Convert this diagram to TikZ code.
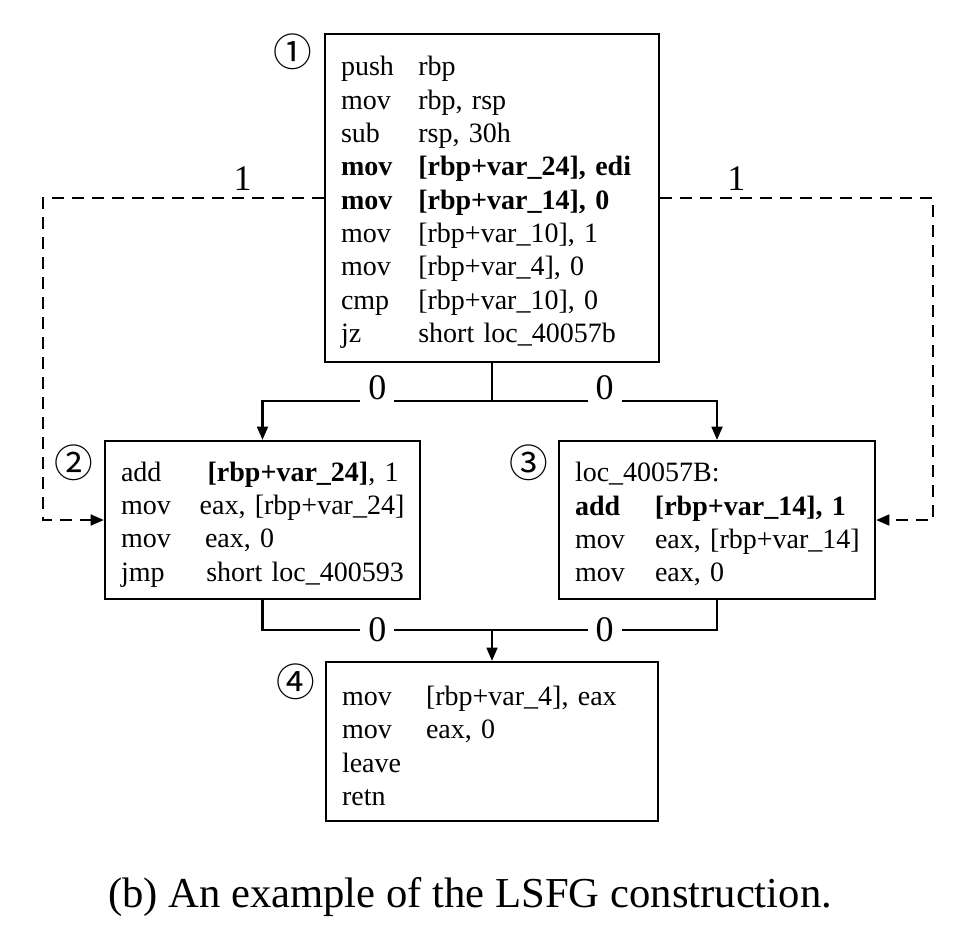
\documentclass[tikz,border=0pt]{standalone}
\usepackage{fontspec}
\setmainfont{Liberation Serif}
\newfontfamily\circfont{Noto Sans CJK JP}
\usetikzlibrary{positioning}
\usetikzlibrary{arrows.meta}
% one instruction: mnemonic in a fixed column, then operands
\newcommand{\instr}[3][58pt]{\mbox{\makebox[#1][l]{#2}#3}}
% pushes a block's lines down a little
\newcommand{\topgap}{\rule{0pt}{21pt}}
\tikzset {
  x=0.75pt, y=-0.75pt,
  % basic block of assembly code
  block/.style = {draw, rectangle, line width=1.5pt, align=left,
    inner xsep=12pt, inner ysep=0pt, font=\fontsize{21}{25}\selectfont},
  % circled block number
  num/.style = {inner sep=0pt, font=\circfont\fontsize{29}{29}\selectfont},
  % fall-through / branch edges
  edge/.style = {line width=2pt},
  flow/.style = {edge, -{Triangle[length=10pt,width=8pt]}},
  % data-dependence edges
  jump/.style = {flow, dash pattern=on 9pt off 6pt},
  % edge weights
  wt/.style = {font=\fontsize{27}{30}\selectfont},
  gap/.style = {wt, fill=white, inner xsep=6pt, inner ysep=2pt},
}

\begin{document}
\begin{tikzpicture}
        \path[use as bounding box] (0,0) rectangle (970,936);

        \node[block, text width=226.5pt, minimum height=246pt] (b1) at (492,198) {
          \topgap\instr{push}{rbp}\\
          \instr{mov}{rbp, rsp}\\
          \instr{sub}{rsp, 30h}\\
          \textbf{\instr{mov}{[rbp+var\_24], edi}}\\
          \textbf{\instr{mov}{[rbp+var\_14], 0}}\\
          \instr{mov}{[rbp+var\_10], 1}\\
          \instr{mov}{[rbp+var\_4], 0}\\
          \instr{cmp}{[rbp+var\_10], 0}\\
          \instr{jz}{short loc\_40057b}};
        \node[block, text width=212.25pt, minimum height=118.5pt] (b2) at (262.5,520) {
          \topgap\instr[65pt]{add}{\textbf{[rbp+var\_24]}, 1}\\
          \instr[59pt]{mov}{eax, [rbp+var\_24]}\\
          \instr[63pt]{mov}{eax, 0}\\
          \instr[64pt]{jmp}{short loc\_400593}};
        \node[block, text width=213pt, minimum height=118.5pt] (b3) at (717,520) {
          \topgap loc\_40057B:\\
          \textbf{\instr[60pt]{add}{[rbp+var\_14], 1}}\\
          \instr[60pt]{mov}{eax, [rbp+var\_14]}\\
          \instr[60pt]{mov}{eax, 0}};
        \node[block, text width=225pt, minimum height=119.25pt] (b4) at (492,741.5) {
          \topgap\instr[63pt]{mov}{[rbp+var\_4], eax}\\
          \instr[63pt]{mov}{eax, 0}\\
          leave\\
          retn};

        \node[num] (n1) at ([shift={(-31,19)}]b1.north west) {①};
        \node[num] (n2) at ([shift={(-30,23)}]b2.north west) {②};
        \node[num] (n3) at ([shift={(-29,23)}]b3.north west) {③};
        \node[num] (n4) at ([shift={(-29,21)}]b4.north west) {④};

        \coordinate (split) at ([shift={(0,38)}]b1.south);
        \coordinate (join) at ([shift={(0,-31)}]b4.north);
        \coordinate (lc) at (43,520);
        \coordinate (rc) at (933,520);

        % control flow
        \draw[edge] (b1.south) -- (split);
        \draw[flow] (split) -| node[gap, pos=0.25, yshift=10pt] (w1) {0} (b2.north);
        \draw[flow] (split) -| node[gap, pos=0.25, yshift=10pt] (w2) {0} (b3.north);
        \draw[edge] (b2.south) |- node[gap, pos=0.75] (w3) {0} (join);
        \draw[edge] (b3.south) |- node[gap, pos=0.75] (w4) {0} (join);
        \draw[flow] (join) -- (b4.north);

        % dependences
        \draw[jump] (b1.west) -| node[wt, pos=0.145, above, yshift=1pt] (w5) {1} (lc) -- (b2.west);
        \draw[jump] (b1.east) -| node[wt, pos=0.14, above, yshift=1pt] (w6) {1} (rc) -- (b3.east);

        \node (cap) at (470,897) {\fontsize{32}{36}\selectfont (b) An example of the LSFG construction.};
      \end{tikzpicture}
\end{document}
